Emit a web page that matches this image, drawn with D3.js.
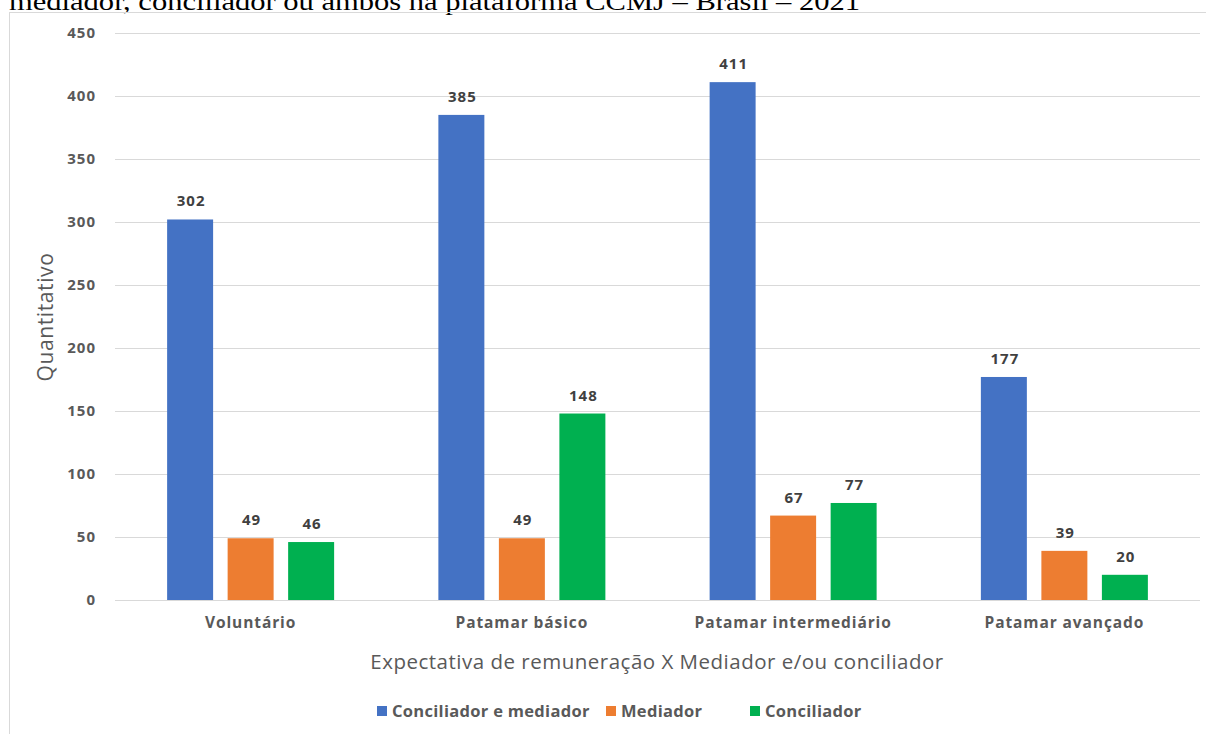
<!DOCTYPE html>
<html>
<head>
<meta charset="utf-8">
<script src="https://cdn.jsdelivr.net/npm/d3@7"></script>
<style>
  body { margin: 0; background: #fff; }
  svg { display: block; }
  text { font-family: "Open Sans", Lato, sans-serif; }
</style>
</head>
<body>
<div id="chart"></div>
<script>
// data
var categories = ['Voluntário', 'Patamar básico', 'Patamar intermediário', 'Patamar avançado'];
var seriesNames = ['Conciliador e mediador', 'Mediador', 'Conciliador'];
var seriesColors = ['#4472c4', '#ed7d31', '#00b050'];
var conciliadorMediador = [302, 385, 411, 177];
var mediador = [49, 49, 67, 39];
var conciliador = [46, 148, 77, 20];
var yTicks = [0, 50, 100, 150, 200, 250, 300, 350, 400, 450];

var seriesValues = [conciliadorMediador, mediador, conciliador];

var width = 1206, height = 734;
var svg = d3.select('#chart').append('svg').attr('width', width).attr('height', height);

// clipped caption from the page above the chart
svg.append('text')
    .attr('x', 9).attr('y', 10)
    .attr('textLength', 851).attr('lengthAdjust', 'spacingAndGlyphs')
    .style('font-family', '"Liberation Serif", "DejaVu Serif", serif')
    .style('font-size', '26px')
    .attr('fill', '#000')
    .text('mediador, conciliador ou ambos na plataforma CCMJ – Brasil – 2021');

// chart area frame (left + top only visible)
svg.append('line').attr('x1', 9.5).attr('x2', 9.5).attr('y1', 12).attr('y2', height).attr('stroke', '#d9d9d9');
svg.append('line').attr('x1', 9).attr('x2', width).attr('y1', 12.5).attr('y2', 12.5).attr('stroke', '#d9d9d9');

var x0 = d3.scaleBand().domain(categories).range([115, 1200]);
var x1 = d3.scaleBand().domain(seriesNames).range([0, 167]).paddingInner(0.24);
var y = d3.scaleLinear().domain([0, 450]).range([600, 33]);

// gridlines
svg.append('g').selectAll('line').data(yTicks).enter().append('line')
    .attr('x1', 115).attr('x2', 1200)
    .attr('y1', function(d) { return Math.round(y(d)) + 0.5; })
    .attr('y2', function(d) { return Math.round(y(d)) + 0.5; })
    .attr('stroke', '#d9d9d9').attr('stroke-width', 1.2);

// y axis labels
var yAxis = d3.axisLeft(y).tickValues(yTicks).tickSize(0).tickPadding(0);
var gy = svg.append('g').attr('transform', 'translate(96,0)').call(yAxis);
gy.select('.domain').remove();
gy.selectAll('text')
    .style('font-family', '"Open Sans", sans-serif')
    .style('font-size', '15px').style('font-weight', 'bold')
    .style('letter-spacing', '1px').attr('fill', '#595959');

// bars
var groups = svg.append('g').selectAll('g').data(categories).enter().append('g')
    .attr('transform', function(d) { return 'translate(' + (x0(d) + x0.bandwidth() / 2 - 83.5) + ',0)'; });

groups.each(function(cat, ci) {
    var g = d3.select(this);
    var rows = seriesNames.map(function(s, si) { return {s: s, v: seriesValues[si][ci], c: seriesColors[si]}; });
    g.selectAll('rect').data(rows).enter().append('rect')
        .attr('x', function(d) { return x1(d.s); })
        .attr('width', x1.bandwidth())
        .attr('y', function(d) { return y(d.v); })
        .attr('height', function(d) { return y(0) - y(d.v); })
        .attr('fill', function(d) { return d.c; });
    g.selectAll('text').data(rows).enter().append('text')
        .attr('x', function(d) { return x1(d.s) + x1.bandwidth() / 2 + 1; })
        .attr('y', function(d) { return y(d.v) - 13; })
        .attr('text-anchor', 'middle')
        .style('font-size', '15px').style('font-weight', 'bold')
        .style('letter-spacing', '1px')
        .attr('fill', '#404040')
        .text(function(d) { return d.v; });
});

// x axis labels
var xAxis = d3.axisBottom(x0).tickSize(0).tickPadding(0);
var gx = svg.append('g').attr('transform', 'translate(0,617)').call(xAxis);
gx.select('.domain').remove();
gx.selectAll('text')
    .style('font-family', '"Open Sans", sans-serif')
    .style('font-size', '15.5px').style('font-weight', 'bold')
    .style('letter-spacing', '0.9px').attr('fill', '#595959');

// axis titles
svg.append('text')
    .attr('x', 657).attr('y', 669)
    .attr('text-anchor', 'middle')
    .style('font-size', '20.5px').style('letter-spacing', '0.5px').attr('fill', '#595959')
    .text('Expectativa de remuneração X Mediador e/ou conciliador');

svg.append('text')
    .attr('transform', 'translate(53,317) rotate(-90)')
    .attr('text-anchor', 'middle')
    .style('font-size', '21px').style('letter-spacing', '0.6px').attr('fill', '#595959')
    .text('Quantitativo');

// legend
var legendX = [377, 606, 750];
var legend = svg.append('g').selectAll('g').data(seriesNames).enter().append('g')
    .attr('transform', function(d, i) { return 'translate(' + legendX[i] + ',706)'; });
legend.append('rect').attr('width', 10).attr('height', 10)
    .attr('fill', function(d, i) { return seriesColors[i]; });
legend.append('text')
    .attr('x', 15).attr('y', 11)
    .style('font-size', '16.5px').style('font-weight', 'bold')
    .style('letter-spacing', '0.3px').attr('fill', '#595959')
    .text(function(d) { return d; });
</script>
</body>
</html>
